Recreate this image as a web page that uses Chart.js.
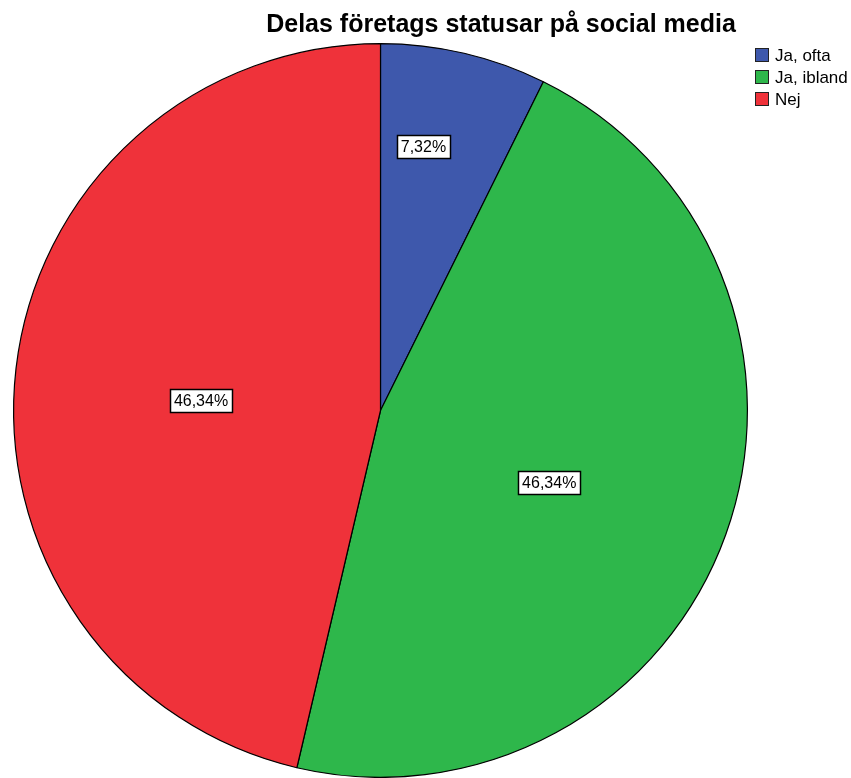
<!DOCTYPE html>
<html>
<head>
<meta charset="utf-8">
<script src="https://cdn.jsdelivr.net/npm/chart.js@4"></script>
<style>
  html, body { margin: 0; padding: 0; background: #fff; }
  #wrap { position: relative; width: 851px; height: 778px; }
</style>
</head>
<body>
<div id="wrap"><canvas id="pie"></canvas></div>
<script>
const chartTitle = "Delas företags statusar på social media";
const categories = ["Ja, ofta", "Ja, ibland", "Nej"];
const percentages = [7.32, 46.34, 46.34];
const sliceColors = ["#3e58ac", "#2eb74b", "#ef323a"];

// SPSS style labels: white box with black border, decimal comma
const boxLabels = {
  id: "boxLabels",
  afterDatasetsDraw(chart, args, opts) {
    const ctx = chart.ctx;
    const meta = chart.getDatasetMeta(0);
    ctx.save();
    ctx.font = "16px 'Liberation Sans', Arial, sans-serif";
    ctx.textAlign = "center";
    ctx.textBaseline = "middle";
    meta.data.forEach((arc, i) => {
      const { x, y, startAngle, endAngle, outerRadius } = arc.getProps(
        ["x", "y", "startAngle", "endAngle", "outerRadius"], true);
      const span = endAngle - startAngle;
      const mid = startAngle + span * opts.angleFrac[i];
      const r = outerRadius * opts.radiusFrac[i];
      const cx = x + Math.cos(mid) * r;
      const cy = y + Math.sin(mid) * r;
      const text = percentages[i].toFixed(2).replace(".", ",") + "%";
      const w = Math.round(ctx.measureText(text).width + 8);
      const h = 23;
      const bx = Math.round(cx - w / 2) + 0.5;
      const by = Math.round(cy - h / 2) + 0.5;
      ctx.fillStyle = "#fff";
      ctx.fillRect(bx, by, w, h);
      ctx.strokeStyle = "#000";
      ctx.lineWidth = 1.5;
      ctx.strokeRect(bx, by, w, h);
      ctx.fillStyle = "#000";
      ctx.fillText(text, cx, cy + 1);
    });
    ctx.restore();
  },
};

// title and legend placed like the SPSS output
const spssFrame = {
  id: "spssFrame",
  afterDraw(chart) {
    const ctx = chart.ctx;
    ctx.save();
    ctx.fillStyle = "#000";
    ctx.font = "bold 25px 'Liberation Sans', Arial, sans-serif";
    ctx.textAlign = "center";
    ctx.textBaseline = "alphabetic";
    ctx.fillText(chartTitle, 501, 32);

    ctx.font = "17px 'Liberation Sans', Arial, sans-serif";
    ctx.textAlign = "left";
    ctx.textBaseline = "middle";
    categories.forEach((c, i) => {
      const y = 55 + i * 22;
      ctx.fillStyle = sliceColors[i];
      ctx.fillRect(755, y - 7, 14, 14);
      ctx.strokeStyle = "#222";
      ctx.lineWidth = 1;
      ctx.strokeRect(755.5, y - 6.5, 13, 13);
      ctx.fillStyle = "#000";
      ctx.fillText(c, 775, y + 1);
    });
    ctx.restore();
  },
};

new Chart(document.getElementById("pie"), {
  type: "pie",
  data: {
    labels: categories,
    datasets: [
      {
        data: percentages,
        backgroundColor: sliceColors,
        borderColor: "#000",
        borderWidth: 1.2,
      },
    ],
  },
  options: {
    responsive: true,
    maintainAspectRatio: false,
    animation: false,
    layout: { padding: { left: 13, right: 103, top: 43, bottom: 0 } },
    plugins: {
      legend: { display: false },
      title: { display: false },
      tooltip: { enabled: false },
      boxLabels: { angleFrac: [0.35, 0.52, 0.48], radiusFrac: [0.73, 0.5, 0.49] },
    },
  },
  plugins: [boxLabels, spssFrame],
});
</script>
</body>
</html>
